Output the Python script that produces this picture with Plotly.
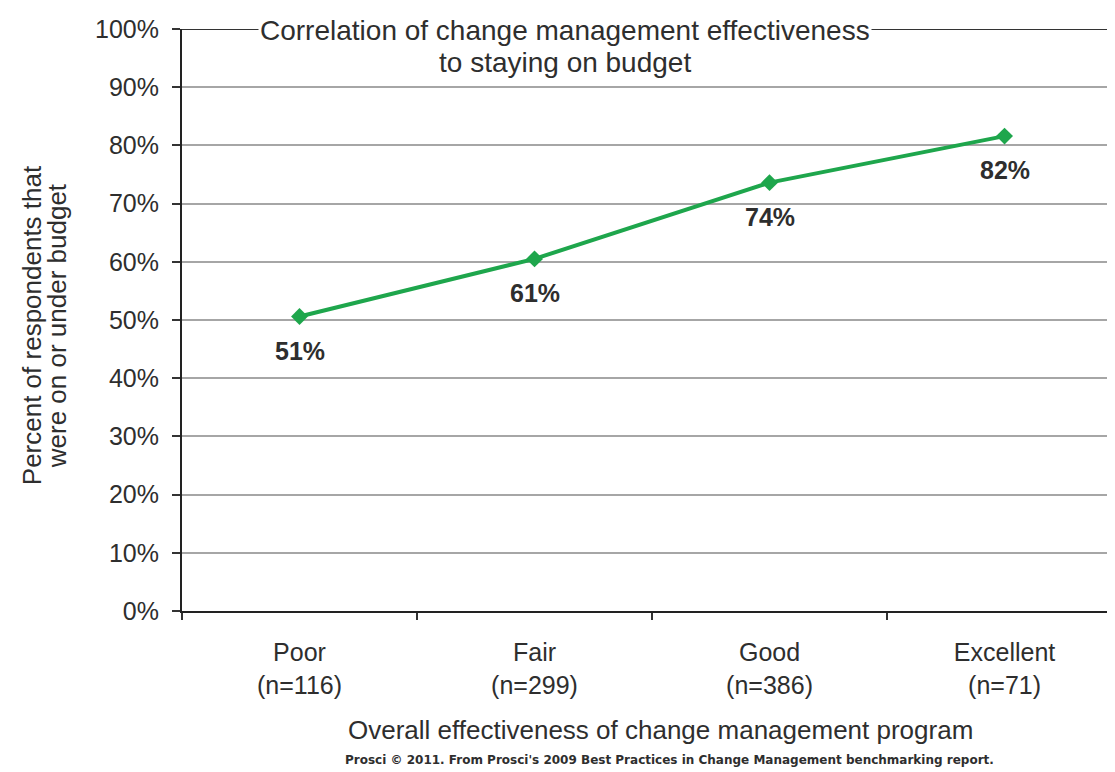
import plotly.graph_objects as go

categories = ["Poor<br>(n=116)", "Fair<br>(n=299)", "Good<br>(n=386)", "Excellent<br>(n=71)"]
values = [50.6, 60.5, 73.6, 81.6]
value_labels = ["51%", "61%", "74%", "82%"]
y_ticks = [0, 10, 20, 30, 40, 50, 60, 70, 80, 90, 100]
y_tick_text = [f"{v}%" for v in y_ticks]
title_lines = ["Correlation of change management effectiveness", "to staying on budget"]
ytitle_lines = ["Percent of respondents that", "were on or under budget"]

FONT = "Liberation Sans, Arial, sans-serif"
GREEN = "#1ea64c"
TXT = "#2e2e2e"

fig = go.Figure()
fig.add_trace(go.Scatter(
    x=categories, y=values, mode="lines+markers",
    line=dict(color=GREEN, width=4),
    marker=dict(symbol="diamond", size=13, color=GREEN),
    hoverinfo="skip", showlegend=False,
))

for c, v, t in zip(categories, values, value_labels):
    fig.add_annotation(x=c, y=v, text=f"<b>{t}</b>", showarrow=False,
                       yshift=-34, font=dict(family=FONT, size=25, color=TXT))

# dark line at 100%
fig.add_shape(type="line", xref="paper", yref="y", x0=0, x1=1, y0=100, y1=100,
              line=dict(color="#333333", width=2), layer="below")

fig.add_annotation(xref="paper", yref="paper", x=0.41, y=1.0, yanchor="middle",
                   text=title_lines[0], showarrow=False, bgcolor="white", yshift=-1,
                   font=dict(family=FONT, size=28, color=TXT))
fig.add_annotation(xref="paper", yref="paper", x=0.41, y=1.0, yanchor="middle",
                   text=title_lines[1], showarrow=False, yshift=-33,
                   font=dict(family=FONT, size=28, color=TXT))

for xp, line in zip([-0.1608, -0.134], ytitle_lines):
    fig.add_annotation(xref="paper", yref="paper", x=xp, y=0.491, textangle=-90,
                       xanchor="center", yanchor="middle", text=line,
                       showarrow=False, font=dict(family=FONT, size=26, color=TXT))

fig.add_annotation(xref="paper", yref="paper", x=0.513, y=-0.2045, yanchor="middle",
                   text="Overall effectiveness of change management program",
                   showarrow=False, font=dict(family=FONT, size=26, color=TXT))

fig.add_annotation(xref="paper", yref="paper", x=0.523, y=-0.256, yanchor="middle",
                   text="<b>Prosci © 2011. From Prosci's 2009 Best Practices in Change Management benchmarking report.</b>",
                   showarrow=False, font=dict(family="DejaVu Sans, sans-serif", size=12, color=TXT))

fig.update_layout(
    width=1107, height=764,
    margin=dict(l=174, r=0, t=21, b=161),
    paper_bgcolor="white", plot_bgcolor="white",
    font=dict(family=FONT, color=TXT),
    xaxis=dict(
        type="category", range=[-0.5, 3.47],
        tickson="boundaries", ticks="outside", ticklen=7, tickwidth=2, tickcolor="#333",
        ticklabelstandoff=18,
        showline=True, linecolor="#222", linewidth=2,
        showgrid=False, tickfont=dict(family=FONT, size=25, color=TXT),
        fixedrange=True,
    ),
    yaxis=dict(
        range=[0, 100], tickvals=y_ticks, ticktext=y_tick_text,
        ticks="outside", ticklen=8, tickwidth=2, tickcolor="#333",
        ticklabelstandoff=8,
        showline=True, linecolor="#222", linewidth=2,
        showgrid=True, gridcolor="#a6a6a6", gridwidth=2,
        zeroline=False, tickfont=dict(family=FONT, size=25, color=TXT),
        fixedrange=True,
    ),
)

fig.write_html("out.html")
